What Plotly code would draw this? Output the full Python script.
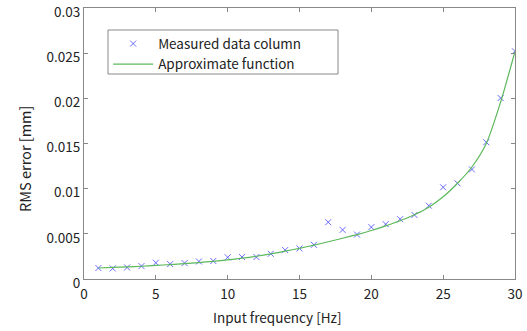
import plotly.graph_objects as go

freq = list(range(1, 31))
measured = [0.00121, 0.00117, 0.00128, 0.00143, 0.00180, 0.00165, 0.00176, 0.00194, 0.00199, 0.00240,
            0.00243, 0.00243, 0.00279, 0.00320, 0.00338, 0.00378, 0.00629, 0.00544, 0.00492, 0.00574,
            0.00607, 0.00662, 0.00709, 0.00812, 0.01015, 0.01059, 0.01213, 0.01514, 0.02003, 0.02521]
approx = [0.00122, 0.00128, 0.00134, 0.00141, 0.00150, 0.00160, 0.00170, 0.00182, 0.00196, 0.00212,
          0.00230, 0.00252, 0.00278, 0.00308, 0.00340, 0.00375, 0.00412, 0.00451, 0.00492, 0.00537,
          0.00588, 0.00645, 0.00712, 0.00795, 0.00910, 0.01060, 0.01240, 0.01500, 0.01960, 0.02520]
xticks = [0, 5, 10, 15, 20, 25, 30]
yticks = [0, 0.005, 0.01, 0.015, 0.02, 0.025, 0.03]
yticktext = ["0", "0.005", "0.01", "0.015", "0.02", "0.025", "0.03"]
x_title = "Input frequency [Hz]"
y_title = "RMS error [mm]"

FONT = "Noto Sans CJK KR"
TXT = "#222222"

fig = go.Figure()
fig.add_trace(go.Scatter(x=freq, y=measured, mode="markers", name="Measured data column",
                         marker=dict(symbol="x-thin", size=6, color="rgba(70,70,255,0.8)",
                                     line=dict(width=1, color="rgba(70,70,255,0.8)"))))
fig.add_trace(go.Scatter(x=freq, y=approx, mode="lines", name="Approximate function",
                         line=dict(color="#5cb85c", width=1.2, shape="spline", smoothing=0.8)))

axis_common = dict(showline=True, linecolor="#888888", linewidth=1, mirror="ticks",
                   ticks="inside", ticklen=4, tickcolor="#888888", showgrid=False,
                   zeroline=False, ticklabeloverflow="allow", automargin=False,
                   tickfont=dict(size=13.5, color=TXT, family=FONT))
fig.update_xaxes(range=[0, 30.0001], tickvals=xticks, ticktext=[str(v) for v in xticks],
                 ticklabelstandoff=3, **axis_common)
fig.update_yaxes(range=[0, 0.0300001], tickvals=yticks, ticktext=yticktext,
                 ticklabelshift=4, **axis_common)

fig.add_annotation(text=x_title, xref="paper", yref="paper", x=0.450, y=-0.140,
                   xanchor="center", yanchor="middle", showarrow=False,
                   font=dict(size=13.5, color=TXT, family=FONT))
fig.add_annotation(text=y_title, xref="paper", yref="paper", x=-0.137, y=0.443,
                   xanchor="center", yanchor="middle", showarrow=False, textangle=-90,
                   font=dict(size=14.5, color=TXT, family=FONT))

# legend frame
fig.add_shape(type="rect", xref="paper", yref="paper",
              x0=(108 - 84) / 431, x1=(338 - 84) / 431,
              y0=(279 - 74) / 271, y1=(279 - 30) / 271,
              line=dict(color="#888888", width=1), fillcolor="white", layer="below")

fig.update_layout(width=527, height=331, margin=dict(l=84, r=12, t=8, b=52, autoexpand=False),
                  plot_bgcolor="white", paper_bgcolor="white",
                  font=dict(family=FONT, size=13, color=TXT),
                  legend=dict(x=0.056, y=0.925, xanchor="left", yanchor="top",
                              borderwidth=0, bgcolor="rgba(0,0,0,0)",
                              font=dict(size=13.5, family=FONT, color=TXT), tracegroupgap=0,
                              itemwidth=40))
fig.write_html("out.html")
